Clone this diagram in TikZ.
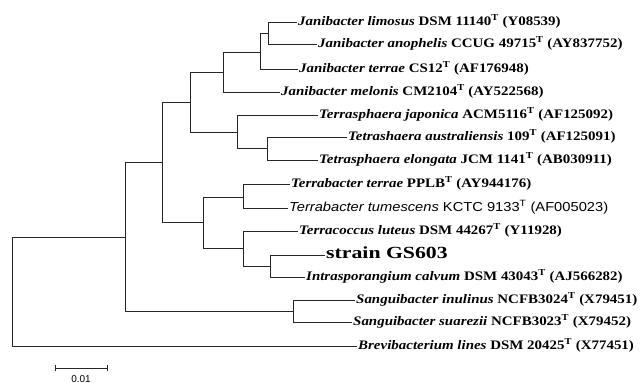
\documentclass[tikz,border=0pt]{standalone}
\usepackage{fontspec}
\setmainfont{Liberation Serif}[FakeStretch=1.15]
\newfontfamily\sansfnt{Liberation Sans}[FakeStretch=1.13]
\newfontfamily\strainfnt{Liberation Serif}[FakeStretch=1.28]
\newfontfamily\scalefnt{Liberation Sans}
\usepackage{tikz}
\usetikzlibrary{positioning, calc}

\tikzstyle{branch} = [line width=0.8pt, draw=black!85]
\tikzstyle{taxon} = [anchor=west, inner xsep=1pt, inner ysep=0pt,
text height=8pt, text depth=2pt,
font=\fontsize{13}{15}\selectfont\bfseries]
\newcommand{\spname}[1]{\textit{#1}}
\newcommand{\typ}{\textsuperscript{T}}

\begin{document}
\begin{tikzpicture}[x=1pt, y=-1pt]
        \useasboundingbox (0,0) rectangle (643,383);

        % Hojas (taxa)
        \node (lim)   [taxon] at (297,22)  {\spname{Janibacter limosus} DSM 11140\typ{} (Y08539)};
        \node (anoph) [taxon] at (317,44)  {\spname{Janibacter anophelis} CCUG 49715\typ{} (AY837752)};
        \node (jter)  [taxon] at (298,69)  {\spname{Janibacter terrae} CS12\typ{} (AF176948)};
        \node (melon) [taxon] at (280,92)  {\spname{Janibacter melonis} CM2104\typ{} (AY522568)};
        \node (japon) [taxon] at (318,115) {\spname{Terrasphaera japonica} ACM5116\typ{} (AF125092)};
        \node (austr) [taxon] at (347,137) {\spname{Tetrashaera australiensis} 109\typ{} (AF125091)};
        \node (elong) [taxon] at (318,160) {\spname{Tetrasphaera elongata} JCM 1141\typ{} (AB030911)};
        \node (tter)  [taxon] at (290,184) {\spname{Terrabacter terrae} PPLB\typ{} (AY944176)};
        \node (tumes) [taxon, font=\fontsize{13}{15}\selectfont\sansfnt] at (288,208)
              {\textit{Terrabacter tumescens} KCTC 9133\typ{} (AF005023)};
        \node (tcocc) [taxon] at (298,231) {\spname{Terracoccus luteus} DSM 44267\typ{} (Y11928)};
        \node (gs)    [taxon, font=\fontsize{17}{19}\selectfont\strainfnt\bfseries] at (325,255) {strain GS603};
        \node (intra) [taxon] at (305,277) {\spname{Intrasporangium calvum} DSM 43043\typ{} (AJ566282)};
        \node (inul)  [taxon] at (355,300) {\spname{Sanguibacter inulinus} NCFB3024\typ{} (X79451)};
        \node (suar)  [taxon] at (352,322) {\spname{Sanguibacter suarezii} NCFB3023\typ{} (X79452)};
        \node (brevi) [taxon] at (357,346) {\spname{Brevibacterium lines} DSM 20425\typ{} (X77451)};

        % Nodos internos
        \coordinate (n1)   at (268,33);
        \coordinate (n2)   at (260,52);
        \coordinate (n3)   at (223,72);
        \coordinate (n5)   at (267,148);
        \coordinate (n6)   at (237,132);
        \coordinate (n4)   at (190,102);
        \coordinate (n8)   at (243,197);
        \coordinate (n10)  at (270,266);
        \coordinate (n11)  at (243,248);
        \coordinate (n9)   at (203,222);
        \coordinate (n7)   at (162,162);
        \coordinate (n13)  at (293,311);
        \coordinate (n12)  at (125,237);
        \coordinate (root) at (12,292);

        % --- RAMAS ---
        \draw [branch] (n1) |- (lim.west);
        \draw [branch] (n1) |- (anoph.west);
        \draw [branch] (n2) |- (n1);
        \draw [branch] (n2) |- (jter.west);
        \draw [branch] (n3) |- (n2);
        \draw [branch] (n3) |- (melon.west);
        \draw [branch] (n5) |- (austr.west);
        \draw [branch] (n5) |- (elong.west);
        \draw [branch] (n6) |- (japon.west);
        \draw [branch] (n6) |- (n5);
        \draw [branch] (n4) |- (n3);
        \draw [branch] (n4) |- (n6);
        \draw [branch] (n8) |- (tter.west);
        \draw [branch] (n8) |- (tumes.west);
        \draw [branch] (n10) |- (gs.west);
        \draw [branch] (n10) |- (intra.west);
        \draw [branch] (n11) |- (tcocc.west);
        \draw [branch] (n11) |- (n10);
        \draw [branch] (n9) |- (n8);
        \draw [branch] (n9) |- (n11);
        \draw [branch] (n7) |- (n4);
        \draw [branch] (n7) |- (n9);
        \draw [branch] (n13) |- (inul.west);
        \draw [branch] (n13) |- (suar.west);
        \draw [branch] (n12) |- (n7);
        \draw [branch] (n12) |- (n13);
        \draw [branch] (root) |- (n12);
        \draw [branch] (root) |- (brevi.west);

        % Barra de escala
        \coordinate (sb1) at (55,368);
        \coordinate (sb2) at (107,368);
        \draw [branch, line width=0.7pt] (sb1) -- (sb2);
        \draw [branch, line width=0.7pt] ($(sb1)+(0,-3)$) -- ($(sb1)+(0,3)$);
        \draw [branch, line width=0.7pt] ($(sb2)+(0,-3)$) -- ($(sb2)+(0,3)$);
        \node (sbl) [font=\fontsize{10}{11}\selectfont\scalefnt, anchor=north, inner sep=0pt]
              at (81,375) {0.01};
\end{tikzpicture}
\end{document}
